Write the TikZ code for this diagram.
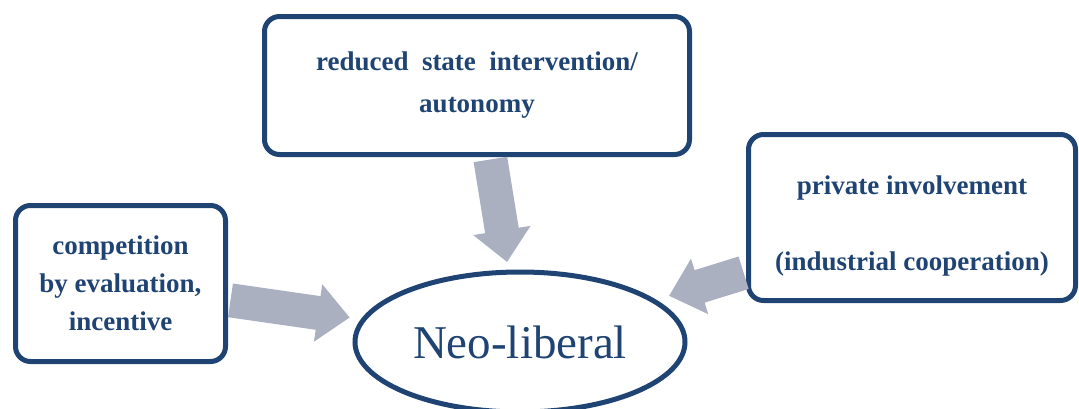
\documentclass[tikz,border=0pt]{standalone}
\usepackage{fontspec}
\setmainfont{Liberation Serif}
\usetikzlibrary{shapes.geometric,arrows.meta}

\definecolor{boxblue}{RGB}{31,68,115}
\definecolor{arrowgrey}{RGB}{170,176,192}

\begin{document}
\begin{tikzpicture}[x=1pt,y=-1pt,
		factor/.style={draw=boxblue,line width=5pt,rounded corners=15pt,align=center,
			text=boxblue,font=\fontsize{27}{38}\selectfont\bfseries,inner sep=0pt},
		centre/.style={ellipse,draw=boxblue,line width=5pt,text=boxblue,
			font=\fontsize{47}{56}\selectfont,minimum width=330pt,minimum height=140pt,inner sep=0pt},
		push/.style={draw=arrowgrey,line width=34pt,shorten <=2.5pt,
			-{Triangle[length=32pt,width=56pt]}}]
		\clip (0,0) rectangle (1079,408);
		\node[factor,minimum width=425pt,minimum height=138pt] (state) at (477,85.5) {reduced\ \ state\ \ intervention/\\[4pt]autonomy};
		\node[factor,minimum width=327pt,minimum height=166pt] (priv) at (912,217.5) {\strut\\[-28pt]private involvement\\[38pt](industrial cooperation)};
		\node[factor,minimum width=210pt,minimum height=156pt] (comp) at (120.5,283.5) {competition\\by evaluation,\\incentive};
		\node[centre] (neo) at (520,342) {Neo-liberal};
		% arrows into the centre
		\draw[push,shorten >=81pt] ([xshift=13pt]state.south) -- (neo.center);
		\draw[push,shorten >=172pt] ([yshift=-16.5pt]comp.east) -- (neo.center);
		\draw[push,shorten >=156pt] ([yshift=-54.5pt]priv.west) -- (neo.center);
\end{tikzpicture}
\end{document}
